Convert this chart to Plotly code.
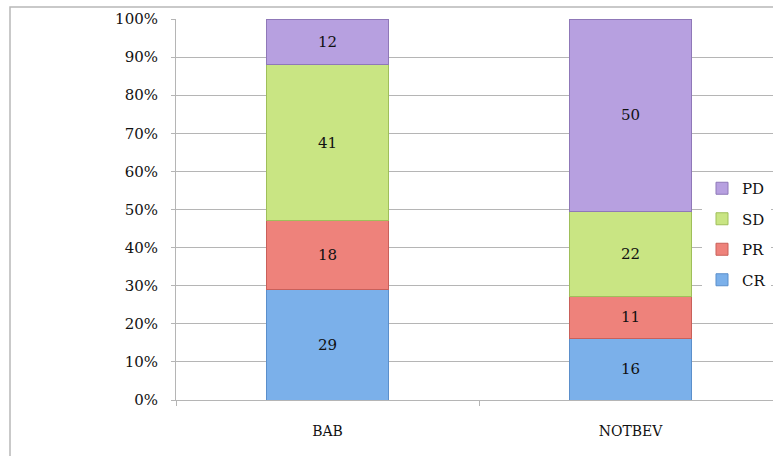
import plotly.graph_objects as go

# Response categories per treatment arm (counts, shown normalised to 100%)
groups = ["BAB", "NOTBEV"]
series = ["CR", "PR", "SD", "PD"]
cr = [29, 16]
pr = [18, 11]
sd = [41, 22]
pd_ = [12, 50]
y_ticks = [0, 10, 20, 30, 40, 50, 60, 70, 80, 90, 100]

values = {"CR": cr, "PR": pr, "SD": sd, "PD": pd_}
colors = {"CR": "#7bb0ea", "PR": "#ee827b", "SD": "#c9e583", "PD": "#b7a0e0"}
edges = {"CR": "#5b8fcb", "PR": "#c9605a", "SD": "#9fbf5a", "PD": "#8f78b8"}

FONT = "DejaVu Serif"
W, H = 773, 456
L, T, B = 176, 19, 56
plot_w = W - L
cat_px = 303  # pixel width of one category slot

fig = go.Figure()
for i, name in enumerate(series):
    fig.add_trace(go.Bar(
        name=name,
        x=groups,
        y=values[name],
        text=values[name],
        textposition="inside",
        insidetextanchor="middle",
        textangle=0,
        textfont=dict(family=FONT, size=15, color="#111"),
        marker=dict(color=colors[name], line=dict(color=edges[name], width=1)),
        width=0.4,
        legendgroup=name,
        legendrank=len(series) - i,  # top segment listed first
        cliponaxis=False,
    ))

grid = "#b5b5b5"
fig.update_layout(
    width=W, height=H,
    margin=dict(l=L, r=0, t=T, b=B),
    barmode="stack",
    barnorm="percent",
    paper_bgcolor="white",
    plot_bgcolor="white",
    font=dict(family=FONT, size=14, color="#222"),
    showlegend=True,
    legend=dict(
        traceorder="grouped",
        x=(702 - L) / plot_w, xanchor="left",
        y=(400 - 172) / 381, yanchor="top",
        bgcolor="white",
        tracegroupgap=8,
        font=dict(family=FONT, size=15, color="#111"),
    ),
    xaxis=dict(
        range=[-0.5, -0.5 + plot_w / cat_px],
        showgrid=False,
        showline=True, linecolor=grid, linewidth=1,
        ticks="outside", tickson="boundaries", ticklen=5, tickcolor=grid,
        ticklabelstandoff=18,
        tickfont=dict(family=FONT, size=14, color="#111"),
        fixedrange=True,
    ),
    yaxis=dict(
        range=[0, 100],
        tickvals=y_ticks,
        ticktext=[f"{v}%" for v in y_ticks],
        showgrid=True, gridcolor=grid, gridwidth=1,
        showline=True, linecolor=grid, linewidth=1,
        ticks="outside", ticklen=4, tickcolor=grid,
        ticklabelstandoff=10,
        tickfont=dict(family=FONT, size=15, color="#111"),
        zeroline=False,
        fixedrange=True,
    ),
    shapes=[dict(
        type="rect", xref="paper", yref="paper",
        x0=(10 - L) / plot_w, x1=1.2,
        y0=-0.3, y1=(400 - 7) / 381,
        line=dict(color="#b8b8b8", width=1.5),
        fillcolor="rgba(0,0,0,0)", layer="below",
    )],
)

fig.write_html("out.html")
